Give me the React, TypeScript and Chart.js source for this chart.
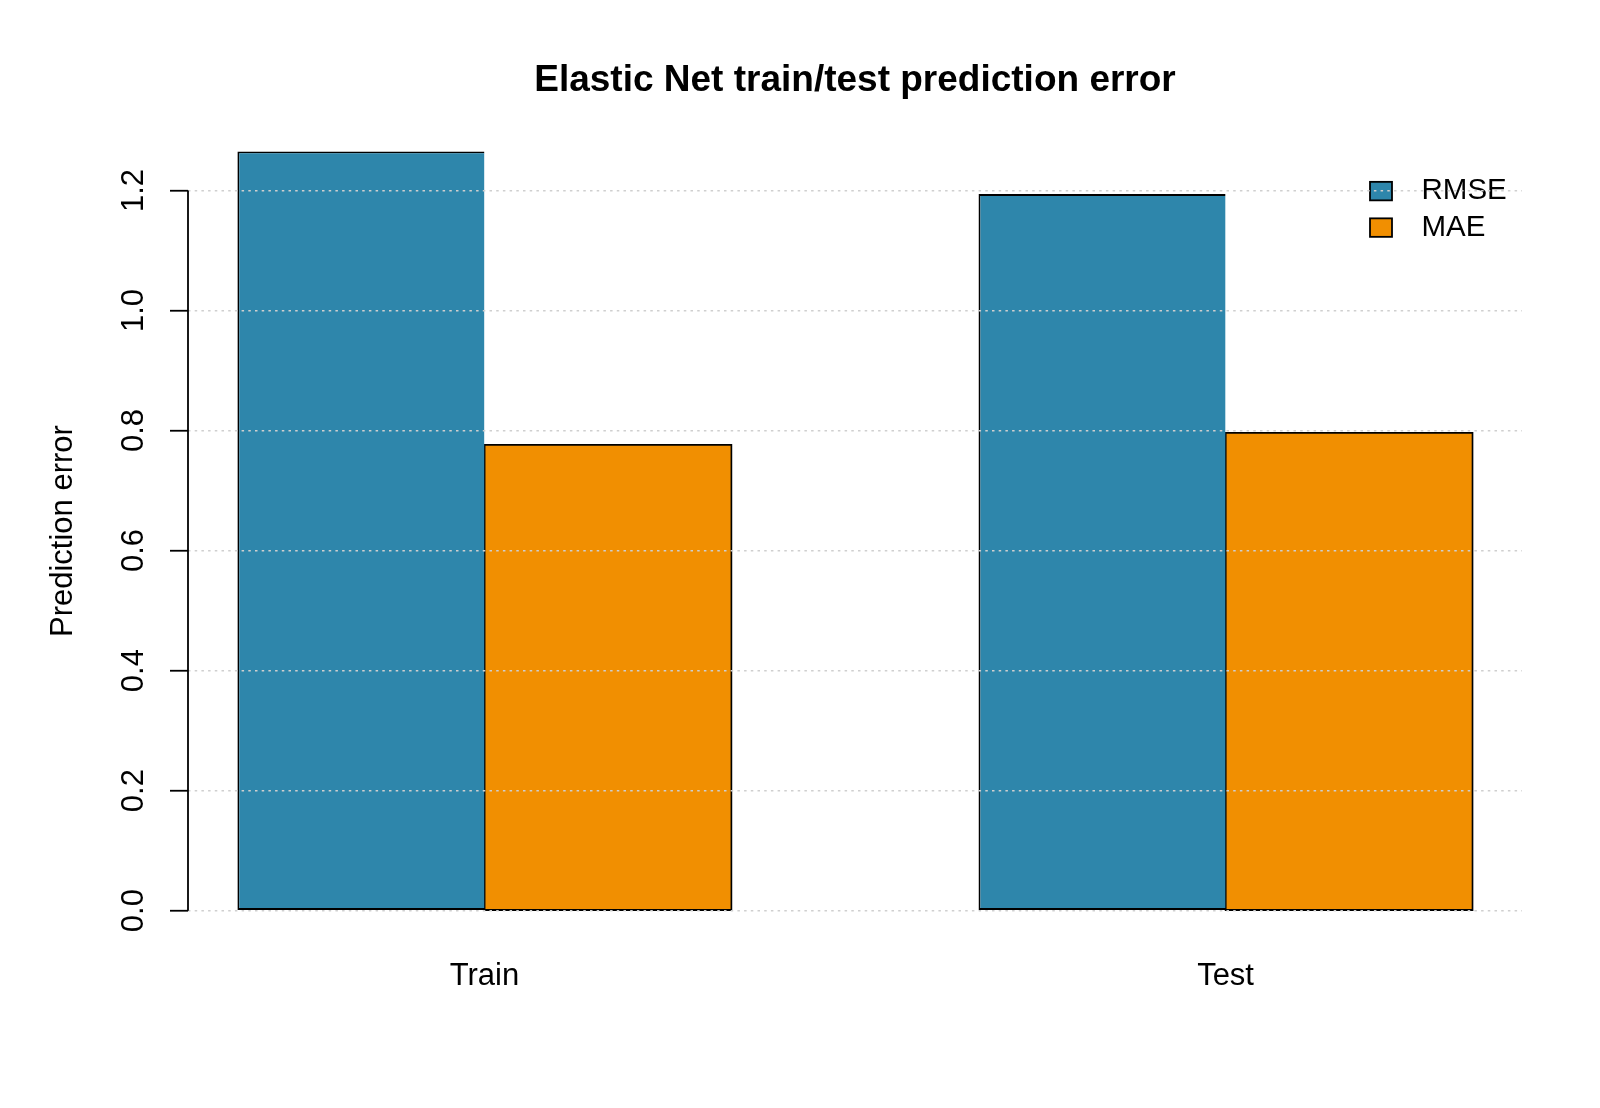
import React, { useEffect, useRef } from "react";
import { Chart, registerables } from "chart.js";

Chart.register(...registerables);

// ---- data ----
const categories = ["Train", "Test"];
const seriesLabels = ["RMSE", "MAE"];
const rmseValues = [1.265, 1.194];
const maeValues = [0.776, 0.796];
const yTickValues = [0, 0.2, 0.4, 0.6, 0.8, 1.0, 1.2];
const chartTitle = "Elastic Net train/test prediction error";
const yAxisTitle = "Prediction error";

const seriesColors = ["#2E86AB", "#F18F01"];
const FONT = '"Liberation Sans", Arial, Helvetica, sans-serif';

// group layout like R barplot(beside=TRUE): each group = 2 bars + 1 bar space
const groupCenter = (i: number) => 2 + 3 * i;
const spanMin = 1;
const spanMax = 3 * categories.length;
const xPad = 0.04 * (spanMax - spanMin);
const allValues = [...rmseValues, ...maeValues];
const yDataMax = Math.max(0, ...allValues);
const yPad = 0.04 * yDataMax;

const axisLinePlugin = {
  id: "rAxisLine",
  afterDraw(chart: any) {
    const { ctx, chartArea, scales } = chart;
    const y = scales.y;
    const top = y.getPixelForValue(yTickValues[yTickValues.length - 1]);
    const bottom = y.getPixelForValue(yTickValues[0]);
    ctx.save();
    ctx.strokeStyle = "#000";
    ctx.lineWidth = 1.8;
    ctx.beginPath();
    ctx.moveTo(chartArea.left, top);
    ctx.lineTo(chartArea.left, bottom);
    ctx.stroke();
    ctx.restore();
  },
};

const insetLegendPlugin = {
  id: "insetLegend",
  afterDatasetsDraw(chart: any) {
    const { ctx, chartArea } = chart;
    const boxW = 22;
    const boxH = 18.5;
    const rowH = 36.5;
    const boxX = chartArea.right - 152;
    const textX = chartArea.right - 100.5;
    const y0 = chartArea.top + 70;
    ctx.save();
    ctx.font = `29.5px ${FONT}`;
    ctx.textBaseline = "middle";
    ctx.textAlign = "left";
    chart.data.datasets.forEach((ds: any, i: number) => {
      const cy = y0 + i * rowH;
      ctx.fillStyle = ds.backgroundColor;
      ctx.fillRect(boxX, cy - boxH / 2, boxW, boxH);
      ctx.lineWidth = 1.8;
      ctx.strokeStyle = "#000";
      ctx.strokeRect(boxX, cy - boxH / 2, boxW, boxH);
      ctx.fillStyle = "#000";
      ctx.fillText(ds.label, textX, cy);
    });
    ctx.restore();
  },
};

export default function App() {
  const canvasRef = useRef<HTMLCanvasElement | null>(null);

  useEffect(() => {
    if (!canvasRef.current) return;
    const seriesValues = [rmseValues, maeValues];
    const chart = new Chart(canvasRef.current, {
      type: "bar",
      data: {
        datasets: seriesLabels.map((label, s) => ({
          label,
          data: categories.map((_, i) => ({ x: groupCenter(i), y: seriesValues[s][i] })),
          backgroundColor: seriesColors[s],
          borderColor: "#000",
          borderWidth:
            s === 0
              ? { top: 1.9, right: 0, bottom: 1.9, left: 1.9 }
              : { top: 1.9, right: 1.9, bottom: 1.9, left: 2.0 },
          inflateAmount: s === 0 ? 0 : 1,
          borderSkipped: false,
          categoryPercentage: 2 / 3,
          barPercentage: 1,
        })),
      },
      options: {
        responsive: false,
        animation: false,
        layout: { padding: { left: 0, right: 78, top: 0, bottom: 0 } },
        plugins: {
          legend: { display: false },
          tooltip: { enabled: false },
          title: {
            display: true,
            text: chartTitle,
            fullSize: false,
            color: "#000",
            font: { family: FONT, size: 37, weight: "bold", lineHeight: 1.2 },
            padding: { top: 59, bottom: 17.7 },
          },
        },
        scales: {
          x: {
            type: "linear",
            offset: false,
            min: spanMin - xPad,
            max: spanMax + xPad,
            afterBuildTicks: (scale: any) => {
              scale.ticks = categories.map((_, i) => ({ value: groupCenter(i) }));
            },
            afterFit: (scale: any) => {
              scale.height = 167;
            },
            grid: { display: false, drawTicks: false, tickLength: 0, offset: false },
            border: { display: false },
            ticks: {
              color: "#000",
              font: { family: FONT, size: 31 },
              padding: 16.4,
              maxRotation: 0,
              autoSkip: false,
              callback: (v: any) => categories[Math.round((Number(v) - 2) / 3)] ?? "",
            },
          },
          y: {
            type: "linear",
            min: -yPad,
            max: yDataMax + yPad,
            afterBuildTicks: (scale: any) => {
              scale.ticks = yTickValues.map((v) => ({ value: v }));
            },
            afterFit: (scale: any) => {
              scale.width = 188;
            },
            grid: {
              z: 1,
              color: "#cfcfcf",
              lineWidth: 1.5,
              drawTicks: true,
              tickLength: 18,
              tickColor: "#000",
              tickWidth: 1.8,
              tickBorderDash: [],
            },
            border: { display: false, dash: [2.5, 4.2] },
            ticks: {
              color: "#000",
              font: { family: FONT, size: 31 },
              minRotation: 90,
              maxRotation: 90,
              crossAlign: "center",
              padding: 13.5,
              autoSkip: false,
              callback: (v: any) => Number(v).toFixed(1),
            },
            title: {
              display: true,
              text: yAxisTitle,
              color: "#000",
              font: { family: FONT, size: 31 },
              padding: { top: 45, bottom: 0 },
            },
          },
        },
      },
      plugins: [insetLegendPlugin, axisLinePlugin],
    } as any);
    return () => chart.destroy();
  }, []);

  return (
    <div style={{ position: "absolute", left: 0, top: 0, width: 1600, height: 1108, background: "#fff" }}>
      <canvas ref={canvasRef} width={1600} height={1108} style={{ width: 1600, height: 1108 }} />
    </div>
  );
}
